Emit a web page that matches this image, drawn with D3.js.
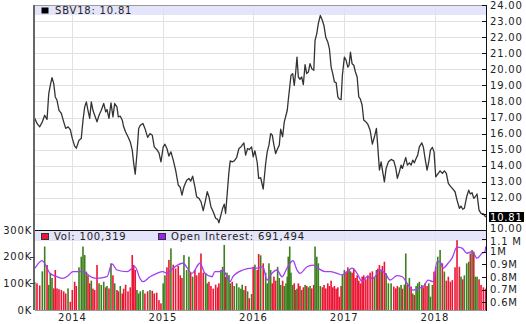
<!DOCTYPE html>
<html>
<head>
<meta charset="utf-8">
<script src="https://cdn.jsdelivr.net/npm/d3@7"></script>
<style>
  body { margin: 0; background: #fff; }
  text { font-family: "DejaVu Sans", Verdana, sans-serif; font-size: 10px; letter-spacing: 0.8px; fill: #222; }
</style>
</head>
<body>
<div id="chart"></div>
<script>
// weekly samples: decimal year, close price, volume (thousands)
var priceT = [2013.585,2013.610,2013.640,2013.669,2013.695,2013.721,2013.740,2013.757,2013.776,2013.795,
  2013.812,2013.831,2013.853,2013.879,2013.905,2013.927,2013.953,2013.978,2014.000,2014.026,
  2014.044,2014.074,2014.099,2014.118,2014.137,2014.155,2014.173,2014.192,2014.210,2014.228,
  2014.247,2014.273,2014.295,2014.320,2014.347,2014.369,2014.383,2014.405,2014.427,2014.449,
  2014.468,2014.493,2014.508,2014.530,2014.552,2014.567,2014.589,2014.615,2014.640,2014.662,
  2014.678,2014.695,2014.714,2014.733,2014.751,2014.780,2014.802,2014.832,2014.858,2014.883,
  2014.905,2014.932,2014.957,2014.979,2015.004,2015.023,2015.045,2015.067,2015.089,2015.115,
  2015.141,2015.170,2015.192,2015.211,2015.233,2015.263,2015.288,2015.307,2015.329,2015.354,
  2015.373,2015.399,2015.421,2015.446,2015.472,2015.490,2015.509,2015.531,2015.556,2015.583,
  2015.605,2015.619,2015.641,2015.660,2015.678,2015.693,2015.708,2015.730,2015.744,2015.766,
  2015.788,2015.815,2015.840,2015.862,2015.876,2015.895,2015.914,2015.936,2015.954,2015.980,
  2015.998,2016.017,2016.042,2016.058,2016.080,2016.108,2016.135,2016.152,2016.171,2016.190,
  2016.208,2016.226,2016.245,2016.267,2016.285,2016.300,2016.322,2016.340,2016.359,2016.373,
  2016.384,2016.400,2016.414,2016.433,2016.450,2016.466,2016.480,2016.495,2016.513,2016.532,
  2016.550,2016.569,2016.587,2016.605,2016.624,2016.643,2016.665,2016.679,2016.698,2016.715,
  2016.737,2016.760,2016.778,2016.797,2016.819,2016.837,2016.856,2016.874,2016.892,2016.911,
  2016.930,2016.947,2016.966,2016.980,2017.002,2017.021,2017.040,2017.054,2017.069,2017.087,
  2017.106,2017.124,2017.143,2017.161,2017.179,2017.198,2017.216,2017.239,2017.261,2017.286,
  2017.311,2017.334,2017.356,2017.371,2017.389,2017.408,2017.422,2017.444,2017.463,2017.488,
  2017.518,2017.548,2017.570,2017.587,2017.609,2017.628,2017.643,2017.665,2017.680,2017.698,
  2017.720,2017.739,2017.757,2017.775,2017.794,2017.812,2017.830,2017.857,2017.874,2017.893,
  2017.915,2017.934,2017.952,2017.974,2017.992,2018.011,2018.033,2018.059,2018.084,2018.106,
  2018.128,2018.150,2018.172,2018.194,2018.224,2018.246,2018.272,2018.290,2018.309,2018.327,
  2018.353,2018.375,2018.393,2018.412,2018.431,2018.448,2018.467,2018.489,2018.511,2018.537,
  2018.563];
var priceV = [16.95,16.63,16.42,16.73,17.14,16.88,18.49,19.0,19.48,19.11,
  18.28,18.07,17.45,17.25,16.73,16.32,16.42,16.25,15.7,15.22,
  15.09,15.59,15.7,16.83,17.66,17.97,17.45,16.94,17.97,17.45,
  17.14,16.73,17.14,17.45,17.87,17.35,17.5,16.94,17.91,17.04,
  17.87,17.66,17.04,17.08,16.83,16.42,16.1,15.8,15.48,14.97,
  14.14,13.48,14.76,16.32,16.52,16.63,16.32,15.76,16.0,15.9,
  15.17,15.01,14.8,14.24,15.17,15.34,15.07,14.6,14.86,14.35,
  13.73,12.8,12.65,12.17,12.69,13.1,13.21,13.04,13.35,12.69,
  12.07,11.97,11.76,11.2,11.86,12.38,12.07,11.45,11.14,10.73,
  10.66,10.45,10.93,11.35,11.61,11.04,12.07,13.62,14.3,14.24,
  14.3,14.51,15.07,15.17,15.28,15.42,14.66,15.07,15.01,15.17,
  14.55,14.93,14.2,13.21,13.25,12.55,14.14,14.86,15.28,16.0,
  15.9,15.28,14.76,15.07,15.28,16.27,15.8,16.73,17.14,17.45,
  18.07,18.9,19.63,19.73,19.0,19.83,20.76,19.52,19.38,19.52,
  19.05,20.29,19.73,19.83,20.35,20.04,19.94,21.8,22.22,22.84,
  23.35,23.04,22.69,22.0,21.7,21.29,20.14,19.73,19.21,19.17,
  18.28,18.14,18.12,19.63,20.76,20.56,20.14,20.25,21.07,20.35,
  20.25,19.83,19.52,18.28,18.14,17.76,16.83,16.73,16.58,16.21,
  15.34,15.8,16.32,15.17,13.73,14.24,13.73,13.0,13.83,14.24,
  14.39,14.3,13.83,13.21,13.62,14.04,13.83,14.24,14.51,14.04,
  14.18,14.04,14.35,14.18,14.45,14.66,15.17,15.42,15.17,14.45,
  13.73,14.24,14.97,15.14,14.86,13.31,13.48,13.68,13.52,13.68,
  13.52,12.9,12.73,12.59,12.38,11.86,11.35,11.49,11.29,11.35,
  12.07,12.48,12.24,12.32,11.97,12.07,12.24,11.24,11.04,11.0,
  10.81];
var volK = [105,100,92,145,238,169,94,138,120,81,
  150,81,78,75,70,62,81,31,75,106,
  90,160,200,238,206,144,130,100,110,80,
  75,169,100,94,106,85,90,81,175,130,
  100,75,70,90,62,80,95,70,85,206,
  169,150,75,62,70,75,62,70,75,72,
  62,65,37,25,100,130,160,188,231,170,
  156,165,130,120,206,150,200,140,125,150,
  130,140,212,140,138,100,106,90,80,95,
  85,100,150,162,244,125,140,131,100,106,
  90,100,85,80,95,75,90,70,44,60,
  162,170,150,210,205,175,140,100,175,150,
  100,125,110,162,120,94,110,90,100,125,
  200,238,140,94,100,75,80,100,90,75,
  85,94,90,85,90,81,94,238,200,175,
  90,85,94,81,100,90,110,85,90,80,
  85,50,90,131,150,140,160,150,145,140,
  155,120,130,110,100,125,130,115,130,140,
  145,125,150,155,169,150,165,181,138,100,
  100,88,81,90,85,94,80,95,212,94,
  120,88,62,56,90,100,106,94,85,100,
  90,100,50,94,144,162,200,225,175,144,
  110,125,106,112,160,262,162,125,115,130,
  175,181,212,225,219,125,125,115,94,85,
  80];

// open interest (millions)
var oiT = [2013.588,2013.666,2013.754,2013.831,2013.897,2013.953,2014.008,2014.118,2014.217,2014.273,
  2014.383,2014.438,2014.493,2014.604,2014.692,2014.747,2014.780,2014.858,2014.935,2015.001,
  2015.045,2015.112,2015.222,2015.321,2015.410,2015.465,2015.542,2015.575,2015.630,2015.663,
  2015.741,2015.774,2015.884,2015.983,2016.039,2016.105,2016.149,2016.204,2016.259,2016.315,
  2016.370,2016.436,2016.480,2016.513,2016.591,2016.657,2016.712,2016.789,2016.844,2016.921,
  2016.976,2017.031,2017.087,2017.142,2017.197,2017.253,2017.319,2017.396,2017.452,2017.507,
  2017.584,2017.641,2017.707,2017.761,2017.817,2017.872,2017.927,2017.982,2018.026,2018.059,
  2018.092,2018.147,2018.191,2018.246,2018.301,2018.356,2018.412,2018.467,2018.522,2018.555,
  2018.563];
var oiV = [0.869,0.929,0.829,0.802,0.789,0.81,0.842,0.842,0.797,0.789,
  0.802,0.903,0.855,0.842,0.881,0.789,0.763,0.802,0.829,0.842,
  0.829,0.869,0.908,0.829,0.908,0.829,0.802,0.842,0.842,0.855,
  0.763,0.802,0.855,0.869,0.869,0.881,0.776,0.829,0.855,0.802,
  0.869,0.929,0.855,0.829,0.881,0.894,0.869,0.842,0.842,0.829,
  0.816,0.842,0.869,0.829,0.763,0.802,0.789,0.855,0.829,0.776,
  0.81,0.802,0.737,0.697,0.710,0.723,0.776,0.763,0.921,0.921,
  0.869,0.908,0.948,1.035,1.027,0.987,1.000,0.948,0.987,1.0,
  1.04];

var priceTicks = [10,11,12,13,14,15,16,17,18,19,20,21,22,23,24];
var volTicks = [0,100,200,300];
var volLabels = ["0K","100K","200K","300K"];
var oiTicks = [0.6,0.7,0.8,0.9,1.0,1.1];
var oiLabels = ["0.6M","0.7M","0.8M","0.9M","1M","1.1 M"];
var xStart = 2013.588, xEnd = 2018.566;
var lastPrice = "10.81";
var priceLegend = "SBV18: 10.81";
var volLegend = "Vol: 100,319";
var oiLegend = "Open Interest: 691,494";

function toDate(t) {
  var y = Math.floor(t);
  var s = new Date(y, 0, 1), e = new Date(y + 1, 0, 1);
  return new Date(+s + (t - y) * (e - s));
}

var W = 526, H = 324;
var L = 35, R = 486, T = 5, MID = 230, B = 310;

var svg = d3.select("#chart").append("svg").attr("width", W).attr("height", H);

var x = d3.scaleTime().domain([toDate(xStart), toDate(xEnd)]).range([L, R]);
var y = d3.scaleLinear().domain([10, 24]).range([MID, T]);
var yVol = d3.scaleLinear().domain([0, 300]).range([B, MID]);
var yOi = d3.scaleLinear().domain([0.54, 1.17]).range([B, MID]);

var n = Math.min(priceT.length, priceV.length, volK.length);
var rows = d3.range(n).map(function (i) {
  return { date: toDate(priceT[i]), p: priceV[i], v: volK[i], up: i === 0 || priceV[i] >= priceV[i - 1] };
});
var oiRows = d3.range(Math.min(oiT.length, oiV.length)).map(function (i) {
  return { date: toDate(oiT[i]), v: oiV[i] };
});

var defs = svg.append("defs");
defs.append("clipPath").attr("id", "clipTop").append("rect")
  .attr("x", L).attr("y", T).attr("width", R - L).attr("height", MID - T);
defs.append("clipPath").attr("id", "clipBot").append("rect")
  .attr("x", L).attr("y", MID).attr("width", R - L).attr("height", B - MID);

// legend bands
svg.append("rect").attr("x", L).attr("y", T).attr("width", R - L).attr("height", 10).attr("fill", "#e4e4fa");
svg.append("rect").attr("x", L).attr("y", MID + 1).attr("width", R - L).attr("height", 10).attr("fill", "#e4e4fa");

// grid
var years = x.ticks(d3.timeYear.every(1));
svg.append("g").selectAll("line").data(priceTicks.slice(1, -1)).enter().append("line")
  .attr("x1", L).attr("x2", R).attr("y1", function (d) { return Math.round(y(d)) + 0.5; })
  .attr("y2", function (d) { return Math.round(y(d)) + 0.5; })
  .attr("stroke", "#e2e2e2");
svg.append("g").selectAll("line").data(years).enter().append("line")
  .attr("x1", function (d) { return Math.round(x(d)) + 0.5; })
  .attr("x2", function (d) { return Math.round(x(d)) + 0.5; })
  .attr("y1", T).attr("y2", B).attr("stroke", "#e2e2e2");

// volume bars
svg.append("g").attr("clip-path", "url(#clipBot)")
  .selectAll("rect").data(rows).enter().append("rect")
  .attr("x", function (d) { return x(d.date) - 0.8; })
  .attr("width", 1.6)
  .attr("y", function (d) { return yVol(d.v); })
  .attr("height", function (d) { return B - yVol(d.v); })
  .attr("fill", function (d) { return d.up ? "#3c7f1c" : "#ec1534"; });

// open interest
svg.append("path").datum(oiRows).attr("clip-path", "url(#clipBot)")
  .attr("fill", "none").attr("stroke", "#a23cf5").attr("stroke-width", 1.3)
  .attr("d", d3.line().curve(d3.curveMonotoneX)
    .x(function (d) { return x(d.date); }).y(function (d) { return yOi(d.v); }));

// price line
svg.append("path").datum(rows).attr("clip-path", "url(#clipTop)")
  .attr("fill", "none").attr("stroke", "#333").attr("stroke-width", 1.3)
  .attr("stroke-linejoin", "round")
  .attr("d", d3.line().x(function (d) { return x(d.date); }).y(function (d) { return y(d.p); }));

// frame
svg.append("line").attr("x1", L).attr("x2", R).attr("y1", T + 0.5).attr("y2", T + 0.5).attr("stroke", "#999");
svg.append("line").attr("x1", L - 1).attr("x2", L - 1).attr("y1", T).attr("y2", B).attr("stroke", "#666").attr("stroke-width", 2);
svg.append("line").attr("x1", L).attr("x2", R).attr("y1", MID + 0.5).attr("y2", MID + 0.5).attr("stroke", "#111");
svg.append("line").attr("x1", L).attr("x2", R).attr("y1", B + 0.5).attr("y2", B + 0.5).attr("stroke", "#999");
svg.append("line").attr("x1", R + 0.5).attr("x2", R + 0.5).attr("y1", T).attr("y2", B + 1).attr("stroke", "#111");

// right price axis (the label under the last-price box is hidden there, so it is left out)
var ly = y(priceV[n - 1]);
var shownPrice = priceTicks.filter(function (d) { return Math.abs(y(d) - ly) > 8; });
var gp = svg.append("g");
gp.selectAll("line").data(priceTicks).enter().append("line")
  .attr("x1", R - 4).attr("x2", R + 1)
  .attr("y1", function (d) { return Math.round(y(d)) + 0.5; })
  .attr("y2", function (d) { return Math.round(y(d)) + 0.5; })
  .attr("stroke", "#111");
gp.selectAll("text").data(shownPrice).enter().append("text")
  .attr("x", R + 4).attr("y", function (d) { return d === 10 ? y(d) - 1.5 : y(d); }).attr("dy", "0.36em")
  .text(function (d) { return d3.format(".2f")(d); });

// right open interest axis
var go = svg.append("g");
go.selectAll("line").data(oiTicks).enter().append("line")
  .attr("x1", R - 4).attr("x2", R + 1)
  .attr("y1", function (d) { return Math.round(yOi(d)) + 0.5; })
  .attr("y2", function (d) { return Math.round(yOi(d)) + 0.5; })
  .attr("stroke", "#111");
go.selectAll("text").data(oiTicks).enter().append("text")
  .attr("x", R + 4).attr("y", function (d, i) { return i === oiTicks.length - 1 ? yOi(d) + 2.5 : yOi(d); })
  .attr("dy", "0.36em")
  .text(function (d, i) { return oiLabels[i]; });

// left volume axis
var gv = svg.append("g");
gv.selectAll("line").data(volTicks.slice(1, 3)).enter().append("line")
  .attr("x1", L - 5).attr("x2", L)
  .attr("y1", function (d) { return Math.round(yVol(d)) + 0.5; })
  .attr("y2", function (d) { return Math.round(yVol(d)) + 0.5; })
  .attr("stroke", "#444");
gv.selectAll("text").data(volTicks).enter().append("text")
  .attr("x", L - 3).attr("y", function (d) { return yVol(d); }).attr("dy", "0.36em")
  .attr("text-anchor", "end")
  .text(function (d, i) { return volLabels[i]; });

// x axis labels
svg.append("g").selectAll("text").data(years).enter().append("text")
  .attr("x", function (d) { return x(d); }).attr("y", 320.5)
  .attr("text-anchor", "middle")
  .text(d3.timeFormat("%Y"));

// last price marker
svg.append("rect").attr("x", R + 3).attr("y", ly - 5).attr("width", 35).attr("height", 10).attr("fill", "#000");
svg.append("text").attr("x", R + 4).attr("y", ly).attr("dy", "0.36em")
  .style("fill", "#fff").text(lastPrice);

// legends
svg.append("rect").attr("x", 41.5).attr("y", 7.5).attr("width", 7).attr("height", 6).attr("fill", "#000");
svg.append("text").attr("x", 55).attr("y", 10).attr("dy", "0.36em").text(priceLegend);
svg.append("rect").attr("x", 41.5).attr("y", 233.5).attr("width", 7).attr("height", 6)
  .attr("fill", "#ec1534").attr("stroke", "#333");
svg.append("text").attr("x", 54).attr("y", 236).attr("dy", "0.36em").text(volLegend);
svg.append("rect").attr("x", 158.5).attr("y", 233.5).attr("width", 7).attr("height", 6)
  .attr("fill", "#9a22ee").attr("stroke", "#333");
svg.append("text").attr("x", 171).attr("y", 236).attr("dy", "0.36em").text(oiLegend);
</script>
</body>
</html>
